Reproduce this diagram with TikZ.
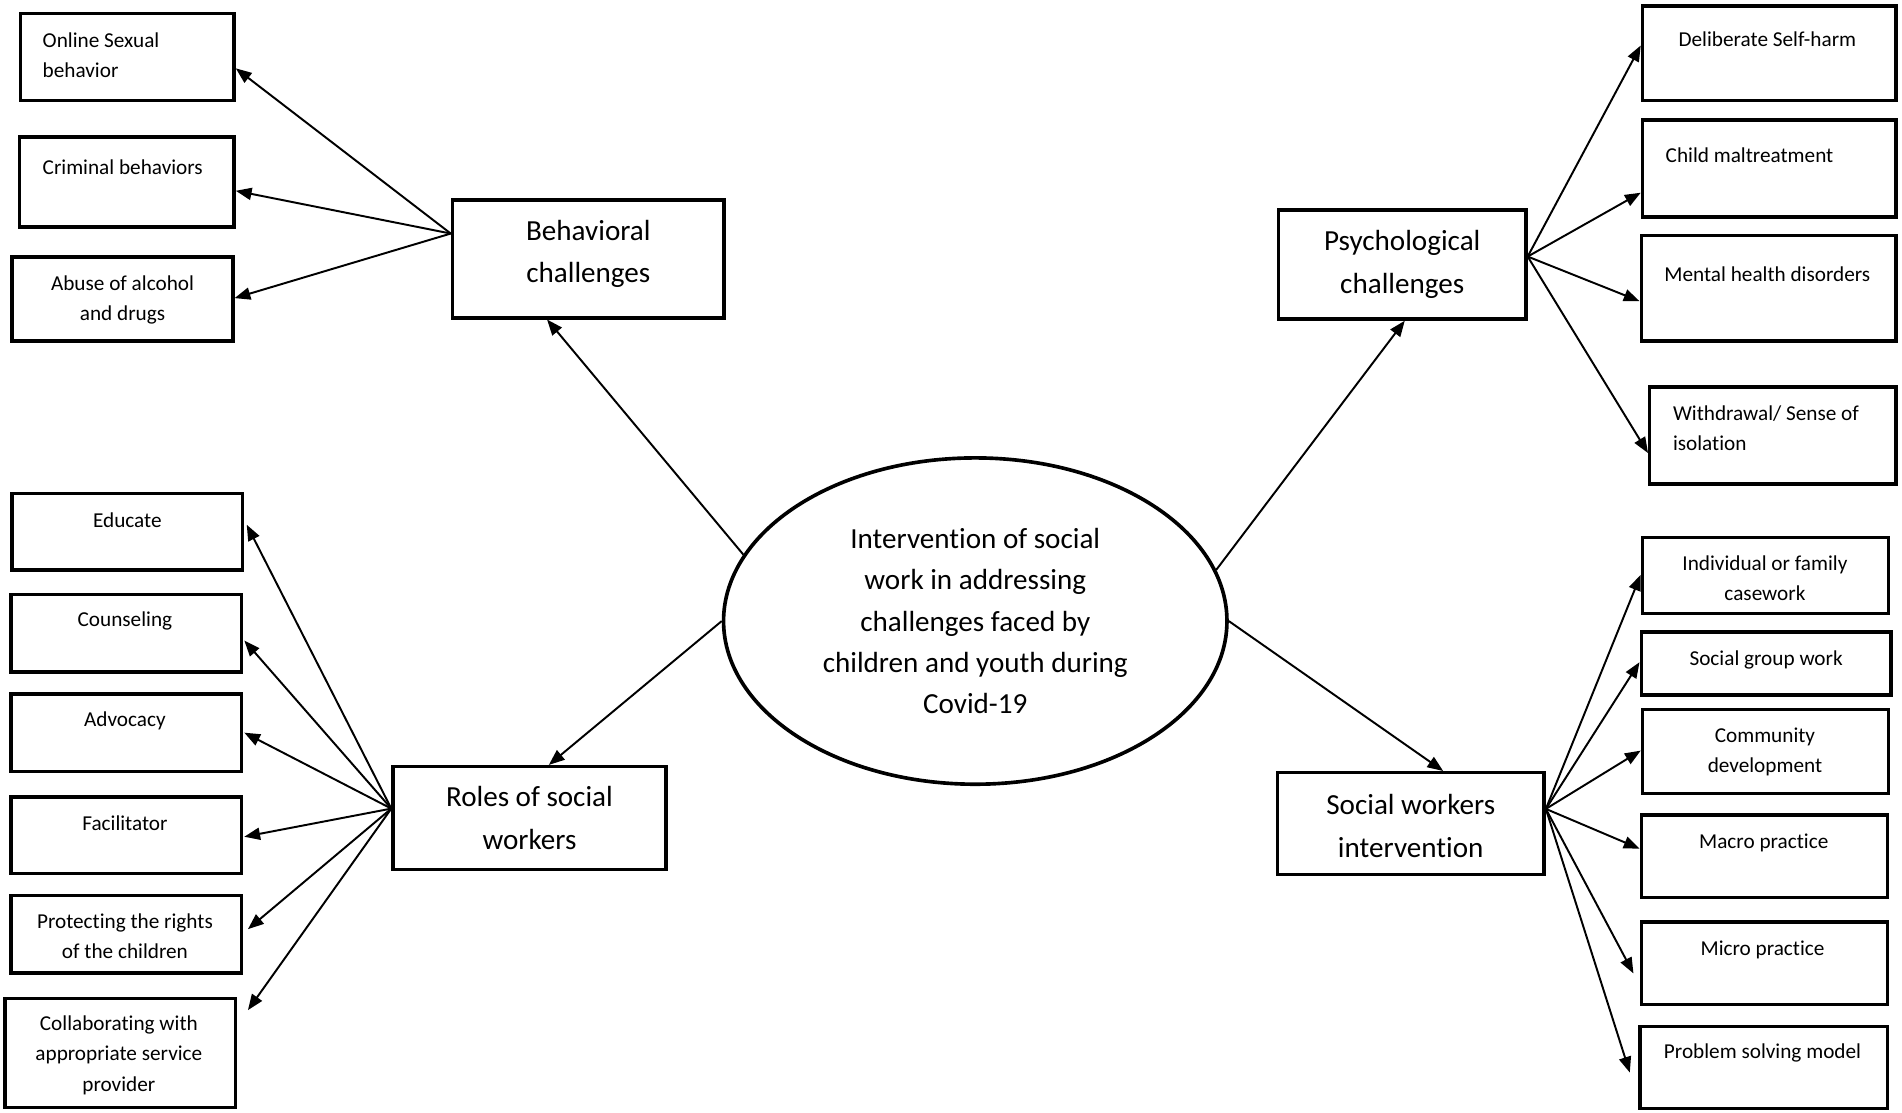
\documentclass[tikz,border=0pt]{standalone}
\usepackage{fontspec}
\setmainfont[RawFeature={-liga;-clig;-calt;-dlig}]{Carlito}
\usetikzlibrary{shapes.geometric,arrows.meta,calc}
\begin{document}
\begin{tikzpicture}[x=1pt,y=-1pt,
  bx/.style={draw, line width=2.8pt, rectangle, inner sep=0pt},
  big/.style={bx, font=\fontsize{24}{35}\selectfont, align=center},
  bigtxt/.style={font=\fontsize{24}{35}\selectfont, align=center, inner sep=0pt},
  txt/.style={font=\fontsize{17.5}{25}\selectfont, align=center, inner sep=0pt},
  arr/.style={line width=1.6pt, -{Triangle[length=13pt,width=10pt]}}]
\useasboundingbox (0,0) rectangle (1568,917);
% centre
\node[ellipse, draw, line width=3pt, minimum width=415pt, minimum height=269pt, inner sep=0pt,
  font=\fontsize{24}{34}\selectfont, align=center] (c) at (804,512)
  {Intervention of social\\work in addressing\\challenges faced by\\children and youth during\\Covid-19};
% main boxes
\node[bx, minimum width=224pt, minimum height=97pt] (beh) at (485,213.5) {};
\node[bigtxt] (beht) at (485,209.5) {Behavioral\\challenges};
\node[big, minimum width=204pt, minimum height=90pt] (psy) at (1156,218) {Psychological\\challenges};
\node[big, minimum width=225pt, minimum height=85pt] (roles) at (436.5,674.5) {Roles of social\\workers};
\node[bx, minimum width=220pt, minimum height=84pt] (swi) at (1163,679) {};
\node[bigtxt] (swit) at (1163,681) {Social workers\\intervention};
% behavioral leaves
\node[bx, minimum width=176pt, minimum height=72pt] (online) at (105,47) {};
\node[txt, align=left, anchor=west] (onlinet) at (35,45.5) {Online Sexual\\behavior};
\node[bx, minimum width=177pt, minimum height=74pt] (crim) at (104.5,150) {};
\node[txt, anchor=west] (crimt) at (35,138) {Criminal behaviors};
\node[bx, minimum width=182pt, minimum height=69pt] (abuse) at (101,246.5) {};
\node[txt] (abuset) at (101,247.5) {Abuse of alcohol\\and drugs};
% psychological leaves
\node[bx, minimum width=209pt, minimum height=78pt] (delib) at (1458.5,44) {};
\node[txt] (delibt) at (1457,32) {Deliberate Self-harm};
\node[bx, minimum width=209pt, minimum height=80pt] (child) at (1458.5,139) {};
\node[txt, anchor=west] (childt) at (1373,128) {Child maltreatment};
\node[bx, minimum width=210pt, minimum height=87pt] (mental) at (1458,237.5) {};
\node[txt] (mentalt) at (1457,226) {Mental health disorders};
\node[bx, minimum width=203pt, minimum height=80pt] (withd) at (1461.5,359) {};
\node[txt, align=left, anchor=west] (withdt) at (1379,353) {Withdrawal/ Sense of\\isolation};
% roles leaves
\node[bx, minimum width=190pt, minimum height=63pt] (edu) at (105,438.5) {};
\node[txt] (edut) at (105,429) {Educate};
\node[bx, minimum width=190pt, minimum height=64pt] (couns) at (104,522) {};
\node[txt] (counst) at (103,512) {Counseling};
\node[bx, minimum width=190pt, minimum height=64pt] (advo) at (104,604) {};
\node[txt] (advot) at (103,594) {Advocacy};
\node[bx, minimum width=190pt, minimum height=63pt] (facil) at (104,688.5) {};
\node[txt] (facilt) at (103,679) {Facilitator};
\node[bx, minimum width=190pt, minimum height=64pt] (prot) at (104,770) {};
\node[txt] (prott) at (103,772) {Protecting the rights\\of the children};
\node[bx, minimum width=190pt, minimum height=90pt] (colla) at (99,868) {};
\node[txt] (collat) at (98,870) {Collaborating with\\appropriate service\\provider};
% intervention leaves
\node[bx, minimum width=203pt, minimum height=63pt] (indiv) at (1455.5,474.5) {};
\node[txt] (indivt) at (1455,476.5) {Individual or family\\casework};
\node[bx, minimum width=206pt, minimum height=52pt] (group) at (1456,547) {};
\node[txt] (groupt) at (1456,544) {Social group work};
\node[bx, minimum width=203pt, minimum height=69pt] (comm) at (1455.5,619.5) {};
\node[txt] (commt) at (1455,620) {Community\\development};
\node[bx, minimum width=203pt, minimum height=68pt] (macro) at (1454.5,706) {};
\node[txt] (macrot) at (1454,695) {Macro practice};
\node[bx, minimum width=203pt, minimum height=68pt] (micro) at (1454.5,794) {};
\node[txt] (microt) at (1453,783) {Micro practice};
\node[bx, minimum width=204pt, minimum height=68pt] (prob) at (1454,880) {};
\node[txt] (probt) at (1453,868) {Problem solving model};
% centre arrows
\draw[arr] (c.164.9) -- ($(beh.south west)!0.35!(beh.south east)$);
\draw[arr] (c.12) -- ($(psy.south west)!0.51!(psy.south east)$);
\draw[arr] (c.180) -- ($(roles.north west)!0.57!(roles.north east)$);
\draw[arr] (c.0) -- ($(swi.north west)!0.62!(swi.north east)$);
% behavioral arrows
\coordinate (bs) at ($(beh.north west)!0.29!(beh.south west)$);
\draw[arr] (bs) -- ($(online.north east)!0.625!(online.south east)$);
\draw[arr] (bs) -- ($(crim.north east)!0.595!(crim.south east)$);
\draw[arr] (bs) -- ($(abuse.north east)!0.49!(abuse.south east)$);
% psychological arrows
\coordinate (ps) at ($(psy.north east)!0.43!(psy.south east)$);
\draw[arr] (ps) -- ($(delib.north west)!0.42!(delib.south west)$);
\draw[arr] (ps) -- ($(child.north west)!0.74!(child.south west)$);
\draw[arr] (ps) -- ($(mental.north west)!0.62!(mental.south west)$);
\draw[arr] (ps) -- ($(withd.north west)!0.675!(withd.south west)$);
% roles arrows
\coordinate (rs) at ($(roles.north west)!0.41!(roles.south west)$);
\draw[arr] (rs) -- ($(edu.north east)!0.41!(edu.south east)+(2,0)$);
\draw[arr] (rs) -- ($(couns.north east)!0.59!(couns.south east)+(1,0)$);
\draw[arr] (rs) -- ($(advo.north east)!0.5!(advo.south east)+(1,0)$);
\draw[arr] (rs) -- ($(facil.north east)!0.52!(facil.south east)+(1,0)$);
\draw[arr] (rs) -- ($(prot.north east)!0.44!(prot.south east)+(4,0)$);
\draw[arr] (rs) -- ($(colla.north east)!0.12!(colla.south east)+(9,0)$);
% intervention arrows
\coordinate (ss) at ($(swi.north east)!0.36!(swi.south east)$);
\draw[arr] (ss) -- ($(indiv.north west)!0.49!(indiv.south west)$);
\draw[arr] (ss) -- ($(group.north west)!0.48!(group.south west)$);
\draw[arr] (ss) -- ($(comm.north west)!0.49!(comm.south west)$);
\draw[arr] (ss) -- ($(macro.north west)!0.41!(macro.south west)$);
\draw[arr] (ss) -- ($(micro.north west)!0.62!(micro.south west)+(-5,0)$);
\draw[arr] (ss) -- ($(prob.north west)!0.56!(prob.south west)+(-7,0)$);
\end{tikzpicture}
\end{document}
